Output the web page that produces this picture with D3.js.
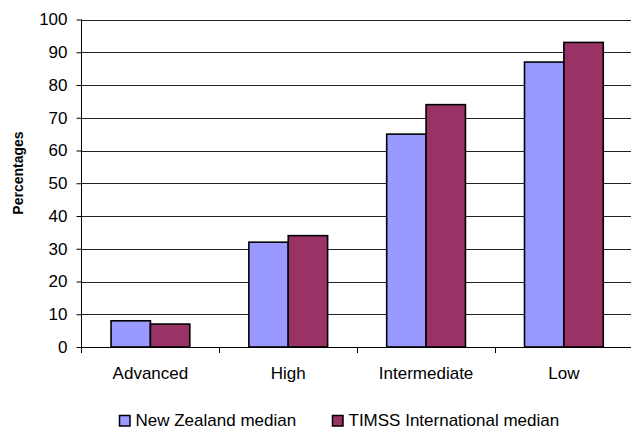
<!DOCTYPE html>
<html>
<head>
<meta charset="utf-8">
<script src="https://cdn.jsdelivr.net/npm/d3@7"></script>
<style>
  html, body { margin: 0; padding: 0; background: #fff; }
  svg { display: block; font-family: "Liberation Sans", Arial, sans-serif; }
</style>
</head>
<body>
<svg id="chart" width="631" height="430"></svg>
<script>
// Benchmark levels and the percentage of students reaching each one
const categories = ["Advanced", "High", "Intermediate", "Low"];
const seriesNames = ["New Zealand median", "TIMSS International median"];
const nzValues = [8, 32, 65, 87];
const intlValues = [7, 34, 74, 93];
const yTicks = [0, 10, 20, 30, 40, 50, 60, 70, 80, 90, 100];
const seriesColors = ["#9999FF", "#993366"];

const svg = d3.select("#chart");
const plotLeft = 81.5, plotRight = 632.8, plotTop = 19.5, plotBottom = 347;

const x = d3.scaleBand().domain(categories).range([plotLeft, plotRight]).paddingInner(0).paddingOuter(0);
const y = d3.scaleLinear().domain([0, 100]).range([plotBottom, plotTop]);

// gap between groups is 150% of a bar width: category = 2 bars + 1.5 bars
const barW = x.bandwidth() / 3.5;
const x1 = d3.scaleBand().domain(seriesNames).range([0, barW * 2]);

// horizontal gridlines
svg.append("g")
  .selectAll("line")
  .data(yTicks.filter(d => d > 0))
  .join("line")
  .attr("x1", plotLeft).attr("x2", 631)
  .attr("y1", d => Math.round(y(d)) + 0.5)
  .attr("y2", d => Math.round(y(d)) + 0.5)
  .attr("stroke", "#222").attr("stroke-width", 1);

// bars
const rows = categories.map((c, i) => ({ cat: c, vals: [nzValues[i], intlValues[i]] }));
const groups = svg.append("g")
  .selectAll("g")
  .data(rows)
  .join("g")
  .attr("transform", d => `translate(${x(d.cat) + x.bandwidth() / 2 - barW},0)`);

groups.selectAll("rect")
  .data(d => d.vals.map((v, j) => ({ name: seriesNames[j], v, j })))
  .join("rect")
  .attr("x", d => x1(d.name))
  .attr("width", barW)
  .attr("y", d => y(d.v))
  .attr("height", d => plotBottom - y(d.v))
  .attr("fill", d => seriesColors[d.j])
  .attr("stroke", "#000")
  .attr("stroke-width", 1.6);

// y axis
const yAxis = d3.axisLeft(y).tickValues(yTicks).tickSize(5).tickPadding(9);
const gy = svg.append("g").attr("transform", `translate(${plotLeft},0)`).call(yAxis);
gy.select(".domain").attr("d", `M0,${plotTop}V${plotBottom + 6}`).attr("stroke", "#000");
gy.selectAll(".tick line").attr("stroke", "#000");
gy.selectAll(".tick text").attr("font-size", 17).attr("fill", "#000")
  .attr("font-family", "Liberation Sans, Arial, sans-serif");

// x axis baseline with ticks at category boundaries
svg.append("line")
  .attr("x1", plotLeft).attr("x2", 631)
  .attr("y1", plotBottom + 0.5).attr("y2", plotBottom + 0.5)
  .attr("stroke", "#000");
svg.append("g")
  .selectAll("line")
  .data(categories.slice(1))
  .join("line")
  .attr("x1", d => Math.round(x(d)) + 0.5).attr("x2", d => Math.round(x(d)) + 0.5)
  .attr("y1", plotBottom).attr("y2", plotBottom + 6)
  .attr("stroke", "#000");

// category labels
svg.append("g")
  .selectAll("text")
  .data(categories)
  .join("text")
  .attr("x", d => x(d) + x.bandwidth() / 2)
  .attr("y", 379)
  .attr("text-anchor", "middle")
  .attr("font-size", 17)
  .attr("fill", "#000")
  .text(d => d);

// y axis title
svg.append("text")
  .attr("transform", "translate(23,173) rotate(-90)")
  .attr("text-anchor", "middle")
  .attr("font-size", 14)
  .attr("font-weight", "bold")
  .attr("fill", "#000")
  .text("Percentages");

// legend
const legendX = [119.5, 332.5];
const legend = svg.append("g")
  .selectAll("g")
  .data(seriesNames)
  .join("g")
  .attr("transform", (d, i) => `translate(${legendX[i]},415.5)`);
legend.append("rect")
  .attr("width", 10.5).attr("height", 10.5)
  .attr("fill", (d, i) => seriesColors[i])
  .attr("stroke", "#000").attr("stroke-width", 1.5);
legend.append("text")
  .attr("x", 16).attr("y", 10.5)
  .attr("font-size", 17)
  .attr("fill", "#000")
  .text(d => d);
</script>
</body>
</html>
